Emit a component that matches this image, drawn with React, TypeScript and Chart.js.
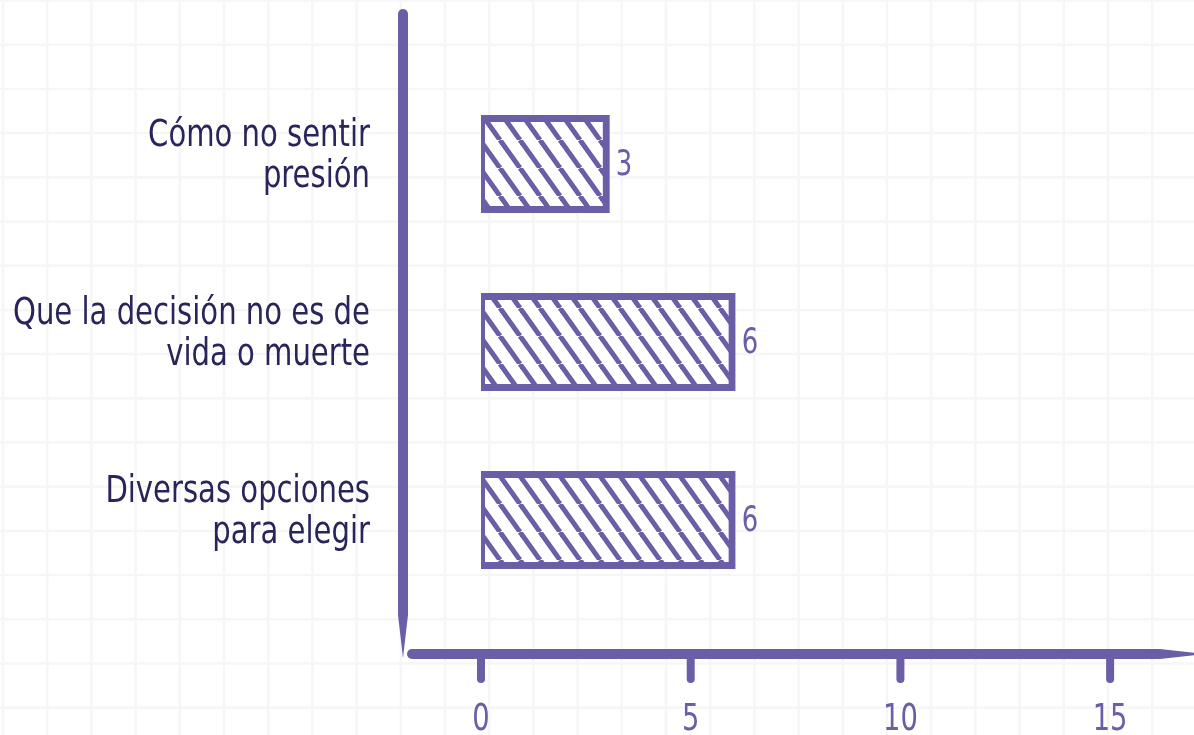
import React, { useEffect, useRef } from "react";
import { Chart, registerables } from "chart.js";

Chart.register(...registerables);

// ---- data ----
const categories: string[][] = [
  ["Cómo no sentir", "presión"],
  ["Que la decisión no es de", "vida o muerte"],
  ["Diversas opciones", "para elegir"],
];
const values: number[] = [3, 6, 6];
const xTicks: number[] = [0, 5, 10, 15];
const xMax = 17;

// ---- style ----
const PURPLE = "#6c5ea6";
const NAVY = "#29245a";
const FONT = '"Liberation Sans Narrow", "DejaVu Sans Condensed", "Roboto", sans-serif';
const W = 1194;
const H = 735;

function makeHatch(): CanvasPattern | string {
  const tw = 20, th = 28;
  const c = document.createElement("canvas");
  c.width = tw;
  c.height = th;
  const g = c.getContext("2d");
  if (!g) return "#ffffff";
  g.fillStyle = "#ffffff";
  g.fillRect(0, 0, tw, th);
  g.strokeStyle = PURPLE;
  g.lineWidth = 5;
  for (const dx of [-tw, 0, tw]) {
    g.beginPath();
    g.moveTo(dx, 0);
    g.lineTo(dx + tw, th);
    g.stroke();
  }
  return g.createPattern(c, "repeat") || "#ffffff";
}

function squeezedText(
  ctx: CanvasRenderingContext2D,
  text: string,
  x: number,
  y: number,
  sx: number
) {
  ctx.save();
  ctx.translate(x, y);
  ctx.scale(sx, 1);
  ctx.fillText(text, 0, 0);
  ctx.restore();
}

const backgroundPlugin = {
  id: "paperGrid",
  beforeDraw(chart: any) {
    const ctx = chart.ctx as CanvasRenderingContext2D;
    ctx.save();
    ctx.fillStyle = "#ffffff";
    ctx.fillRect(0, 0, chart.width, chart.height);
    ctx.strokeStyle = "#f6f6f6";
    ctx.lineWidth = 2.5;
    const step = 44.2;
    for (let x = 3; x < chart.width; x += step) {
      ctx.beginPath();
      ctx.moveTo(x, 0);
      ctx.lineTo(x, chart.height);
      ctx.stroke();
    }
    for (let y = 0.5; y < chart.height; y += step) {
      ctx.beginPath();
      ctx.moveTo(0, y);
      ctx.lineTo(chart.width, y);
      ctx.stroke();
    }
    ctx.restore();
  },
};

const decorPlugin = {
  id: "handAxes",
  afterDatasetsDraw(chart: any) {
    const ctx = chart.ctx as CanvasRenderingContext2D;
    const xs = chart.scales.x;
    const ys = chart.scales.y;
    const axisY = 654;
    const axisX = 403;
    ctx.save();
    ctx.fillStyle = PURPLE;
    ctx.strokeStyle = PURPLE;

    // y axis (tapered bottom)
    ctx.beginPath();
    ctx.moveTo(axisX - 5, 14);
    ctx.arc(axisX, 14, 5, Math.PI, 0);
    ctx.lineTo(axisX + 5, 615);
    ctx.lineTo(axisX, 658);
    ctx.lineTo(axisX - 5, 615);
    ctx.closePath();
    ctx.fill();

    // x axis (tapered right end)
    ctx.beginPath();
    ctx.arc(412, axisY, 5, Math.PI / 2, (3 * Math.PI) / 2);
    ctx.lineTo(1160, axisY - 5);
    ctx.lineTo(chart.width + 2, axisY - 1);
    ctx.lineTo(chart.width + 2, axisY + 1);
    ctx.lineTo(1160, axisY + 5);
    ctx.closePath();
    ctx.fill();

    // ticks + labels
    ctx.lineCap = "round";
    ctx.lineWidth = 8;
    ctx.font = `38px ${FONT}`;
    ctx.textAlign = "center";
    ctx.textBaseline = "alphabetic";
    for (const t of xTicks) {
      const px = xs.getPixelForValue(t);
      ctx.beginPath();
      ctx.moveTo(px, axisY + 4);
      ctx.lineTo(px, 679);
      ctx.stroke();
      squeezedText(ctx, String(t), px, 730, 0.8);
    }

    // category labels
    ctx.fillStyle = NAVY;
    ctx.font = `37px ${FONT}`;
    ctx.textAlign = "right";
    const widest = Math.max(
      ...categories.flat().map((s) => ctx.measureText(s).width)
    );
    const sx = Math.min(1, 357 / widest);
    categories.forEach((lines, i) => {
      const yc = ys.getPixelForValue(i);
      squeezedText(ctx, lines[0], 370, yc - 18, sx);
      squeezedText(ctx, lines[1], 370, yc + 23, sx);
    });

    // value labels
    ctx.fillStyle = PURPLE;
    ctx.font = `36px ${FONT}`;
    ctx.textAlign = "left";
    const meta = chart.getDatasetMeta(0);
    meta.data.forEach((bar: any, i: number) => {
      squeezedText(ctx, String(values[i]), bar.x + 9, bar.y + 11, 0.8);
    });
    ctx.restore();
  },
};

export default function App() {
  const ref = useRef<HTMLCanvasElement | null>(null);

  useEffect(() => {
    if (!ref.current) return;
    const chart = new Chart(ref.current, {
      type: "bar",
      data: {
        labels: categories.map((c) => c.join(" ")),
        datasets: [
          {
            data: values,
            backgroundColor: makeHatch() as any,
            borderColor: PURPLE,
            borderWidth: 7,
            borderSkipped: false,
            inflateAmount: 3,
            barPercentage: 0.517,
            categoryPercentage: 1,
          } as any,
        ],
      },
      options: {
        indexAxis: "y",
        responsive: false,
        animation: false,
        layout: { padding: { left: 481, right: 0, top: 75, bottom: 126 } },
        scales: {
          x: { display: false, min: 0, max: xMax },
          y: { display: false },
        },
        plugins: {
          legend: { display: false },
          tooltip: { enabled: false },
        },
      },
      plugins: [backgroundPlugin, decorPlugin],
    });
    return () => chart.destroy();
  }, []);

  return (
    <div style={{ position: "absolute", left: 0, top: 0, width: W, height: H }}>
      <canvas ref={ref} width={W} height={H} style={{ display: "block" }} />
    </div>
  );
}
